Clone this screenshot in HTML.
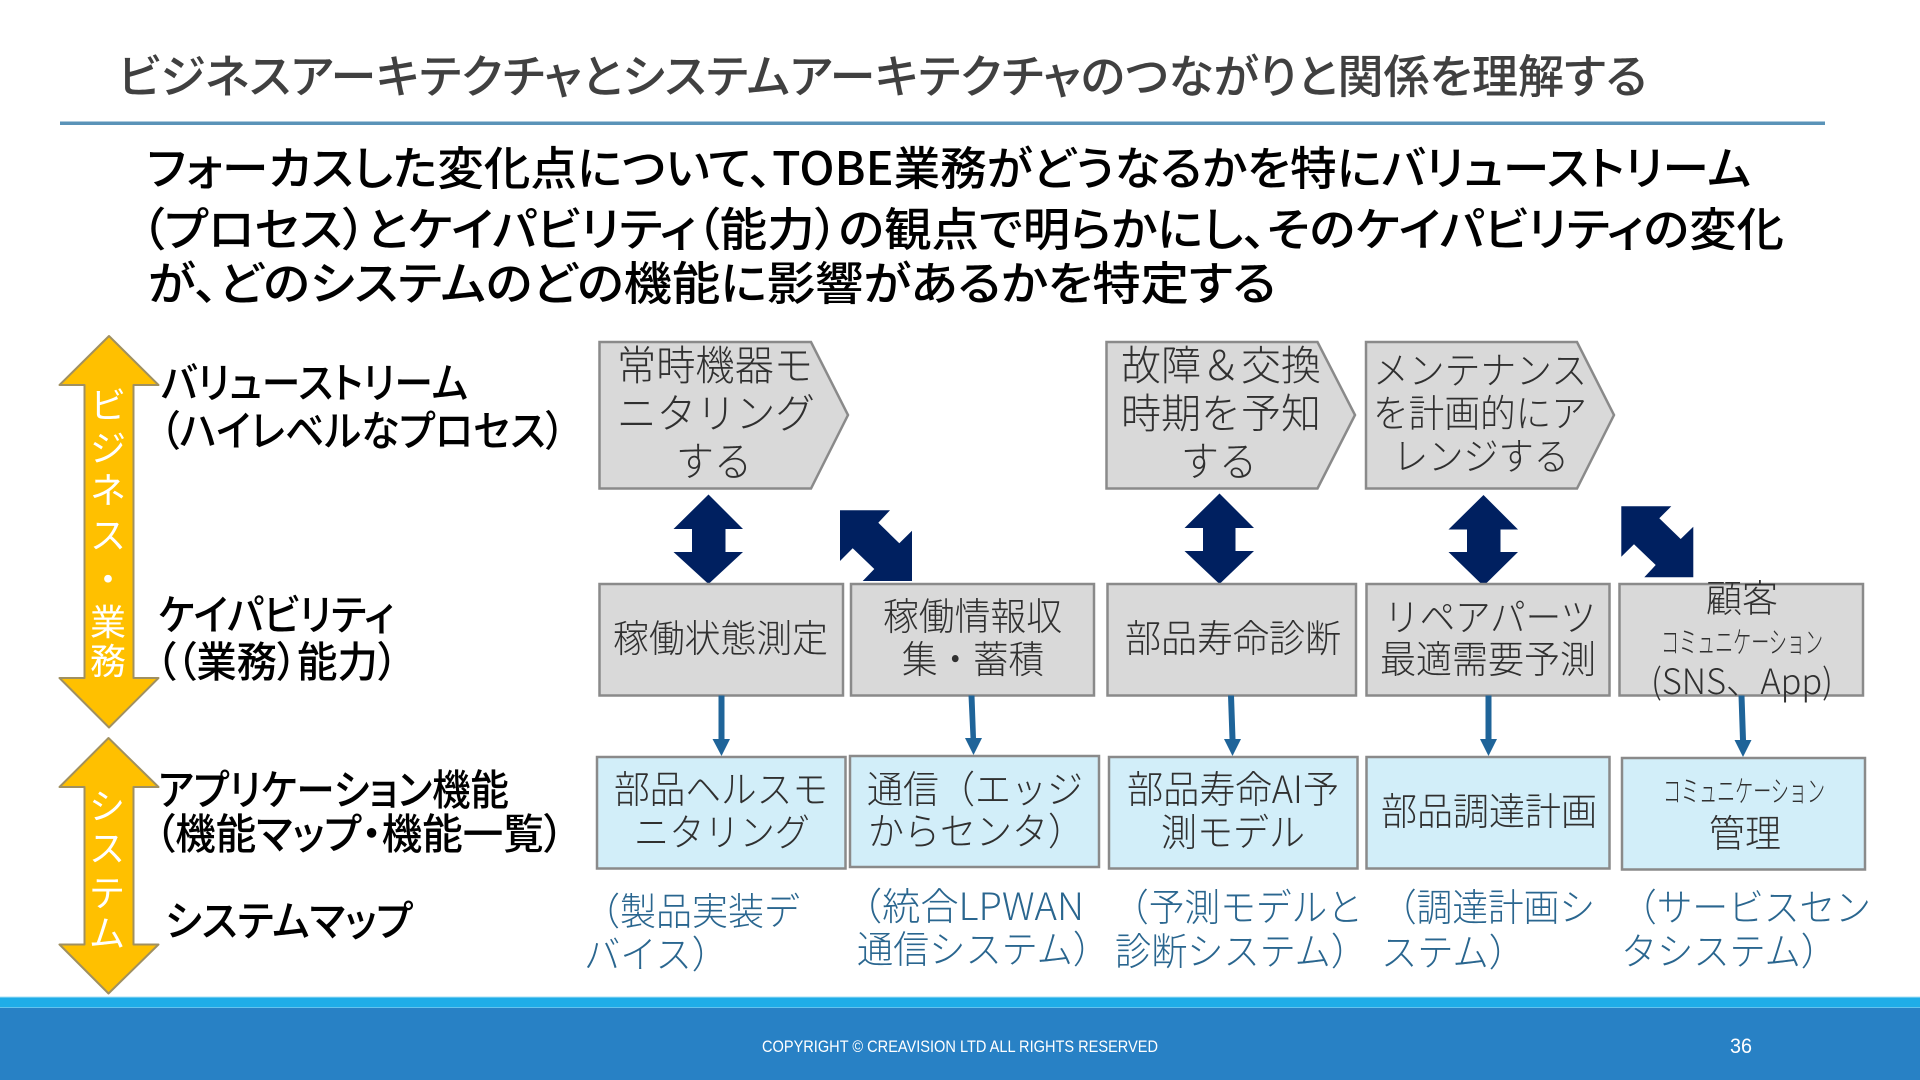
<!DOCTYPE html>
<html lang="ja"><head><meta charset="utf-8"><title>ビジネスアーキテクチャとシステムアーキテクチャ</title>
<style>
html,body{margin:0;padding:0;background:#fff;width:1920px;height:1080px;overflow:hidden}
svg{display:block}
text{font-family:"Liberation Sans","Noto Sans CJK JP",sans-serif;white-space:pre}
.j{font-family:"Noto Sans CJK JP",sans-serif}
.p{font-feature-settings:"palt"}
.t{font-size:46px;fill:#404040;font-weight:500}
.b{font-size:46px;fill:#000;font-weight:500}
.l{font-size:42px;fill:#000;font-weight:500}
.c{font-size:38px;fill:#303030;font-weight:300}
.s{font-size:38px;fill:#2a668f;font-weight:300}
.v{font-size:36px;fill:#fff;text-anchor:middle}
.shape{stroke:#8a8a8a;stroke-width:2.5}
.g{fill:#d9d9d9}
.a{fill:#d2eef9}
.y{fill:#ffc000;stroke:#a09060;stroke-width:2;stroke-linejoin:round}
.n{fill:#002060}
.e{fill:#1f6499}
</style></head><body>
<svg width="1920" height="1080" viewBox="0 0 1920 1080" xmlns="http://www.w3.org/2000/svg">
<rect width="1920" height="1080" fill="#fff"/>

<!-- Title -->
<text class="t j p" x="118" y="93" textLength="1529" lengthAdjust="spacingAndGlyphs">ビジネスアーキテクチャとシステムアーキテクチャのつながりと関係を理解する</text>
<rect x="60" y="121.5" width="1765" height="3.5" fill="#5a93b8"/>

<!-- Body -->
<text class="b j p" x="147" y="185" textLength="1604" lengthAdjust="spacingAndGlyphs">フォーカスした変化点について、TOBE業務がどうなるかを特にバリューストリーム</text>
<text class="b j p" x="141" y="246" textLength="1643" lengthAdjust="spacingAndGlyphs">（プロセス）とケイパビリティ（能力）の観点で明らかにし、そのケイパビリティの変化</text>
<text class="b j p" x="148" y="300" textLength="1128" lengthAdjust="spacingAndGlyphs">が、どのシステムのどの機能に影響があるかを特定する</text>

<!-- Yellow arrows -->
<polygon class="y" points="109,336 158.5,385 133.5,385 133.5,678 158.5,678 109,727.5 59.5,678 84.5,678 84.5,385 59.5,385"/>
<polygon class="y" points="108.5,738 158.5,787 133.5,787 133.5,944.5 158.5,944.5 108.5,993.5 59.5,944.5 84.5,944.5 84.5,787 59.5,787"/>
<g class="j">
<text class="v j" x="108" y="418">ビ</text>
<text class="v j" x="108" y="461">ジ</text>
<text class="v j" x="108" y="503">ネ</text>
<text class="v j" x="108" y="548">ス</text>
<text class="v j" x="108" y="592">・</text>
<text class="v j" x="108" y="635">業</text>
<text class="v j" x="108" y="674">務</text>
<text class="v j" x="107" y="819">シ</text>
<text class="v j" x="107" y="861">ス</text>
<text class="v j" x="107" y="906">テ</text>
<text class="v j" x="107" y="946">ム</text>
</g>

<!-- Left labels -->
<text class="l j p" x="161" y="398" textLength="307" lengthAdjust="spacingAndGlyphs">バリューストリーム</text>
<text class="l j p" x="160" y="446" textLength="405" lengthAdjust="spacingAndGlyphs">（ハイレベルなプロセス）</text>
<text class="l j p" x="158" y="630" textLength="236" lengthAdjust="spacingAndGlyphs">ケイパビリティ</text>
<text class="l j p" x="156" y="677" textLength="242" lengthAdjust="spacingAndGlyphs">（（業務）能力）</text>
<text class="l j p" x="158" y="805" textLength="351" lengthAdjust="spacingAndGlyphs">アプリケーション機能</text>
<text class="l j p" x="155" y="849" textLength="409" lengthAdjust="spacingAndGlyphs">（機能マップ・機能一覧）</text>
<text class="l j p" x="165" y="936" textLength="248" lengthAdjust="spacingAndGlyphs">システムマップ</text>

<!-- Chevrons -->
<polygon class="shape g" points="599.5,342 811,342 848,415 811,488.5 599.5,488.5"/>
<polygon class="shape g" points="1106.5,342 1317.5,342 1355,415 1317.5,488.5 1106.5,488.5"/>
<polygon class="shape g" points="1366,342 1577,342 1614,415 1577,488.5 1366,488.5"/>

<text class="c j" style="font-size:41px" x="617" y="380" textLength="196" lengthAdjust="spacingAndGlyphs">常時機器モ</text>
<text class="c j" style="font-size:41px" x="617" y="428" textLength="198" lengthAdjust="spacingAndGlyphs">ニタリング</text>
<text class="c j" style="font-size:41px" x="676" y="476" textLength="76" lengthAdjust="spacingAndGlyphs">する</text>
<text class="c j" style="font-size:41px" x="1121" y="380" textLength="200" lengthAdjust="spacingAndGlyphs">故障＆交換</text>
<text class="c j" style="font-size:41px" x="1121" y="428" textLength="200" lengthAdjust="spacingAndGlyphs">時期を予知</text>
<text class="c j" style="font-size:41px" x="1181" y="476" textLength="76" lengthAdjust="spacingAndGlyphs">する</text>
<text class="c j" x="1373" y="384" textLength="214" lengthAdjust="spacingAndGlyphs">メンテナンス</text>
<text class="c j" x="1373" y="427" textLength="214" lengthAdjust="spacingAndGlyphs">を計画的にア</text>
<text class="c j" x="1393" y="470" textLength="176" lengthAdjust="spacingAndGlyphs">レンジする</text>

<!-- Dark arrows -->
<polygon class="n" points="708.5,494.5 743,529 725.5,529 725.5,552 743,552 708.5,584 673.5,552 692,552 692,529 673.5,529"/>
<polygon class="n" points="840,510.3 890,510.3 878.3,522.7 899.3,543.3 912,530.7 912,581 862.7,581 874.3,569 852.7,548.3 840,561"/>
<polygon class="n" points="1219.5,493.5 1254,528 1235.5,528 1235.5,551 1254,551 1219.5,584 1184.5,551 1203,551 1203,528 1184.5,528"/>
<polygon class="n" points="1483.5,495 1518,529.5 1500.5,529.5 1500.5,552 1518,552 1483.5,586 1448.5,552 1467,552 1467,529.5 1448.5,529.5"/>
<polygon class="n" points="1621.3,506.3 1671.3,506.3 1659.3,518.3 1680.7,539 1693.3,526.7 1693.3,577.3 1644.3,577.3 1655.7,565 1634,544.3 1621.3,556.7"/>

<!-- Gray boxes -->
<rect class="shape g" x="599.5" y="584" width="243.5" height="111.5"/>
<rect class="shape g" x="851" y="584" width="243" height="111.5"/>
<rect class="shape g" x="1107.5" y="584" width="248.5" height="111.5"/>
<rect class="shape g" x="1366.5" y="584" width="243" height="111.5"/>
<rect class="shape g" x="1619.5" y="584" width="243.5" height="111.5"/>

<text class="c j" x="613" y="652" textLength="215" lengthAdjust="spacingAndGlyphs">稼働状態測定</text>
<text class="c j" x="883" y="630" textLength="179" lengthAdjust="spacingAndGlyphs">稼働情報収</text>
<text class="c j" x="902" y="673" textLength="142" lengthAdjust="spacingAndGlyphs">集・蓄積</text>
<text class="c j" x="1125" y="652" textLength="216" lengthAdjust="spacingAndGlyphs">部品寿命診断</text>
<text class="c j" x="1384" y="631" textLength="212" lengthAdjust="spacingAndGlyphs">リペアパーツ</text>
<text class="c j" x="1380" y="673" textLength="216" lengthAdjust="spacingAndGlyphs">最適需要予測</text>
<text class="c j" x="1706" y="612" textLength="72" lengthAdjust="spacingAndGlyphs">顧客</text>
<text class="c j" style="font-size:30px" x="1661" y="653" textLength="162" lengthAdjust="spacingAndGlyphs">コミュニケーション</text>
<text class="c j" style="font-size:35px" x="1651" y="694" textLength="182" lengthAdjust="spacingAndGlyphs">(SNS、App)</text>

<!-- Blue connectors -->
<polygon class="e" points="718.5,695.5 724.5,695.5 724.5,739 730,739 721.5,756 712.5,739 718.5,739"/>
<polygon class="e" points="968.5,695.5 974.5,695.5 976,738 982,738 973.5,755 965,738 970.5,738"/>
<polygon class="e" points="1228,695.5 1234,695.5 1235.5,739 1241,739 1232.5,756 1224,739 1229.5,739"/>
<polygon class="e" points="1485.5,695.5 1491.5,695.5 1491.5,739 1497,739 1488.5,756 1480,739 1485.5,739"/>
<polygon class="e" points="1738.5,695.5 1744.5,695.5 1746,740 1751.5,740 1743,757 1734.5,740 1740,740"/>

<!-- Blue boxes -->
<rect class="shape a" x="597" y="757" width="248.5" height="111.5"/>
<rect class="shape a" x="850" y="756" width="249" height="111"/>
<rect class="shape a" x="1109" y="757" width="248.5" height="111.5"/>
<rect class="shape a" x="1366.5" y="757" width="243" height="111.5"/>
<rect class="shape a" x="1622" y="758" width="243" height="111.5"/>

<text class="c j" x="614" y="803" textLength="214" lengthAdjust="spacingAndGlyphs">部品ヘルスモ</text>
<text class="c j" x="634" y="846" textLength="176" lengthAdjust="spacingAndGlyphs">ニタリング</text>
<text class="c j" x="867" y="803" textLength="216" lengthAdjust="spacingAndGlyphs">通信（エッジ</text>
<text class="c j" x="868" y="845" textLength="216" lengthAdjust="spacingAndGlyphs">からセンタ）</text>
<text class="c j" x="1127" y="803" textLength="212" lengthAdjust="spacingAndGlyphs">部品寿命AI予</text>
<text class="c j" x="1161" y="846" textLength="144" lengthAdjust="spacingAndGlyphs">測モデル</text>
<text class="c j" x="1381" y="825" textLength="216" lengthAdjust="spacingAndGlyphs">部品調達計画</text>
<text class="c j" style="font-size:30px" x="1663" y="802" textLength="162" lengthAdjust="spacingAndGlyphs">コミュニケーション</text>
<text class="c j" x="1709" y="847" textLength="72" lengthAdjust="spacingAndGlyphs">管理</text>

<!-- Blue captions -->
<text class="s j" x="584" y="925" textLength="216" lengthAdjust="spacingAndGlyphs">（製品実装デ</text>
<text class="s j" x="584" y="968" textLength="144" lengthAdjust="spacingAndGlyphs">バイス）</text>
<text class="s j" x="844" y="920" textLength="240" lengthAdjust="spacingAndGlyphs">（統合LPWAN</text>
<text class="s j" x="857" y="963" textLength="252" lengthAdjust="spacingAndGlyphs">通信システム）</text>
<text class="s j" x="1113" y="921" textLength="250" lengthAdjust="spacingAndGlyphs">（予測モデルと</text>
<text class="s j" x="1115" y="965" textLength="252" lengthAdjust="spacingAndGlyphs">診断システム）</text>
<text class="s j" x="1381" y="921" textLength="214" lengthAdjust="spacingAndGlyphs">（調達計画シ</text>
<text class="s j" x="1381" y="966" textLength="144" lengthAdjust="spacingAndGlyphs">ステム）</text>
<text class="s j" x="1621" y="921" textLength="250" lengthAdjust="spacingAndGlyphs">（サービスセン</text>
<text class="s j" x="1621" y="965" textLength="216" lengthAdjust="spacingAndGlyphs">タシステム）</text>

<!-- Footer -->
<rect x="0" y="997" width="1920" height="83" fill="#2881c5"/>
<rect x="0" y="997" width="1920" height="11" fill="#1fade8"/>
<rect x="0" y="996.5" width="1920" height="1" fill="#a8e0f5"/>
<rect x="0" y="1007" width="1920" height="1" fill="#63c3ee"/>
<text x="762" y="1052" font-size="17" fill="#fff" textLength="396" lengthAdjust="spacingAndGlyphs">COPYRIGHT © CREAVISION LTD ALL RIGHTS RESERVED</text>
<text x="1730" y="1053" font-size="21" fill="#fff" textLength="22" lengthAdjust="spacingAndGlyphs">36</text>
</svg>
</body></html>
